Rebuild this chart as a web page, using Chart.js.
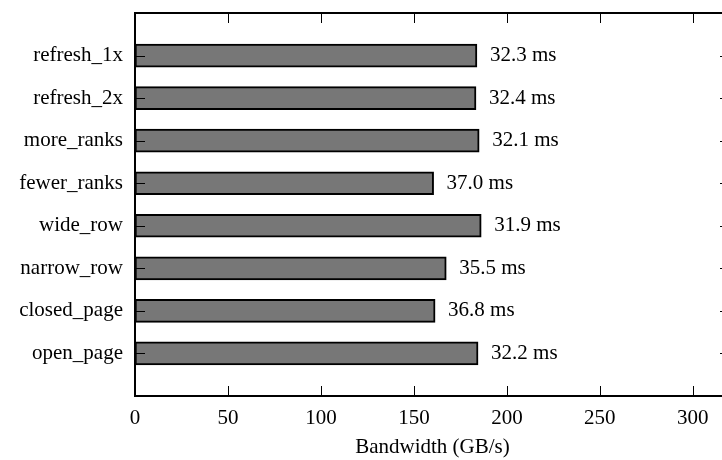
<!DOCTYPE html>
<html>
<head>
<meta charset="utf-8">
<script src="https://cdn.jsdelivr.net/npm/chart.js@4.4.0/dist/chart.umd.min.js"></script>
<style>
  html, body { margin: 0; padding: 0; background: #fff; overflow: hidden; }
  #wrap { width: 740px; height: 460px; }
</style>
</head>
<body>
<div id="wrap"><canvas id="bar-chart" width="740" height="460"></canvas></div>
<script>
var categories = ["refresh_1x", "refresh_2x", "more_ranks", "fewer_ranks", "wide_row", "narrow_row", "closed_page", "open_page"];
var bandwidth = [183.9, 183.4, 185.1, 160.6, 186.2, 167.4, 161.4, 184.5];
var times = ["32.3 ms", "32.4 ms", "32.1 ms", "37.0 ms", "31.9 ms", "35.5 ms", "36.8 ms", "32.2 ms"];
var xTicks = [0, 50, 100, 150, 200, 250, 300];

var serif = "'Liberation Serif', 'Times New Roman', serif";
Chart.defaults.font.family = serif;
Chart.defaults.color = "#000";

// frame + inward ticks, matplotlib style
var frame = {
    id: 'frame',
    afterDatasetsDraw: function(chart) {
        var ctx = chart.ctx, a = chart.chartArea;
        var xs = chart.scales.x, ys = chart.scales.y;
        ctx.save();
        ctx.strokeStyle = "#000";
        ctx.lineWidth = 1;
        xTicks.forEach(function(t) {
            var px = Math.round(xs.getPixelForValue(t)) + 0.5;
            ctx.beginPath();
            ctx.moveTo(px, a.bottom); ctx.lineTo(px, a.bottom - 10);
            ctx.moveTo(px, a.top); ctx.lineTo(px, a.top + 10);
            ctx.stroke();
        });
        categories.forEach(function(c, i) {
            var py = Math.round(ys.getPixelForValue(i)) + 0.5;
            ctx.beginPath();
            ctx.moveTo(a.left, py); ctx.lineTo(a.left + 10, py);
            ctx.moveTo(a.right, py); ctx.lineTo(a.right - 10, py);
            ctx.stroke();
        });
        ctx.lineWidth = 2;
        ctx.strokeRect(a.left, a.top, a.right - a.left, a.bottom - a.top);

        // time labels next to bars
        ctx.font = "21px " + serif;
        ctx.fillStyle = "#000";
        ctx.textBaseline = "middle";
        chart.getDatasetMeta(0).data.forEach(function(el, i) {
            ctx.fillText(times[i], el.x + 13, el.y);
        });
        ctx.restore();
    }
};

var x = document.getElementById("bar-chart");
var y = new Chart(x, {
    type: 'bar',
    data: {
        datasets: [{
            data: bandwidth.map(function(v, i) { return { x: v, y: i }; }),
            backgroundColor: "#777777",
            borderColor: "#000",
            borderWidth: 2,
            borderSkipped: false,
            barThickness: 23
        }]
    },
    plugins: [frame],
    options: {
        indexAxis: 'y',
        responsive: false,
        animation: false,
        layout: { padding: { top: 13, right: 10, left: 0, bottom: 0 } },
        plugins: {
            legend: { display: false },
            tooltip: { enabled: false }
        },
        scales: {
            x: {
                type: 'linear',
                min: 0,
                max: 320,
                grid: { display: false, drawTicks: false },
                border: { display: false },
                ticks: {
                    stepSize: 50,
                    includeBounds: false,
                    padding: 10,
                    font: { size: 21 },
                    color: "#000",
                    maxRotation: 0
                },
                title: {
                    display: true,
                    text: "Bandwidth (GB/s)",
                    font: { size: 21 },
                    color: "#000",
                    padding: { top: 8, bottom: 0 }
                },
                afterFit: function(s) { s.height = 64; s.paddingLeft = 0; s.paddingRight = 0; }
            },
            y: {
                type: 'linear',
                reverse: true,
                offset: false,
                min: -1,
                max: 8,
                grid: { display: false, drawTicks: false, offset: false },
                border: { display: false },
                ticks: {
                    stepSize: 1,
                    padding: 12,
                    font: { size: 21 },
                    color: "#000",
                    callback: function(v) { return categories[v] || ''; }
                },
                afterFit: function(s) { s.width = 135; s.paddingTop = 0; s.paddingBottom = 0; }
            }
        }
    }
});
</script>
</body>
</html>
